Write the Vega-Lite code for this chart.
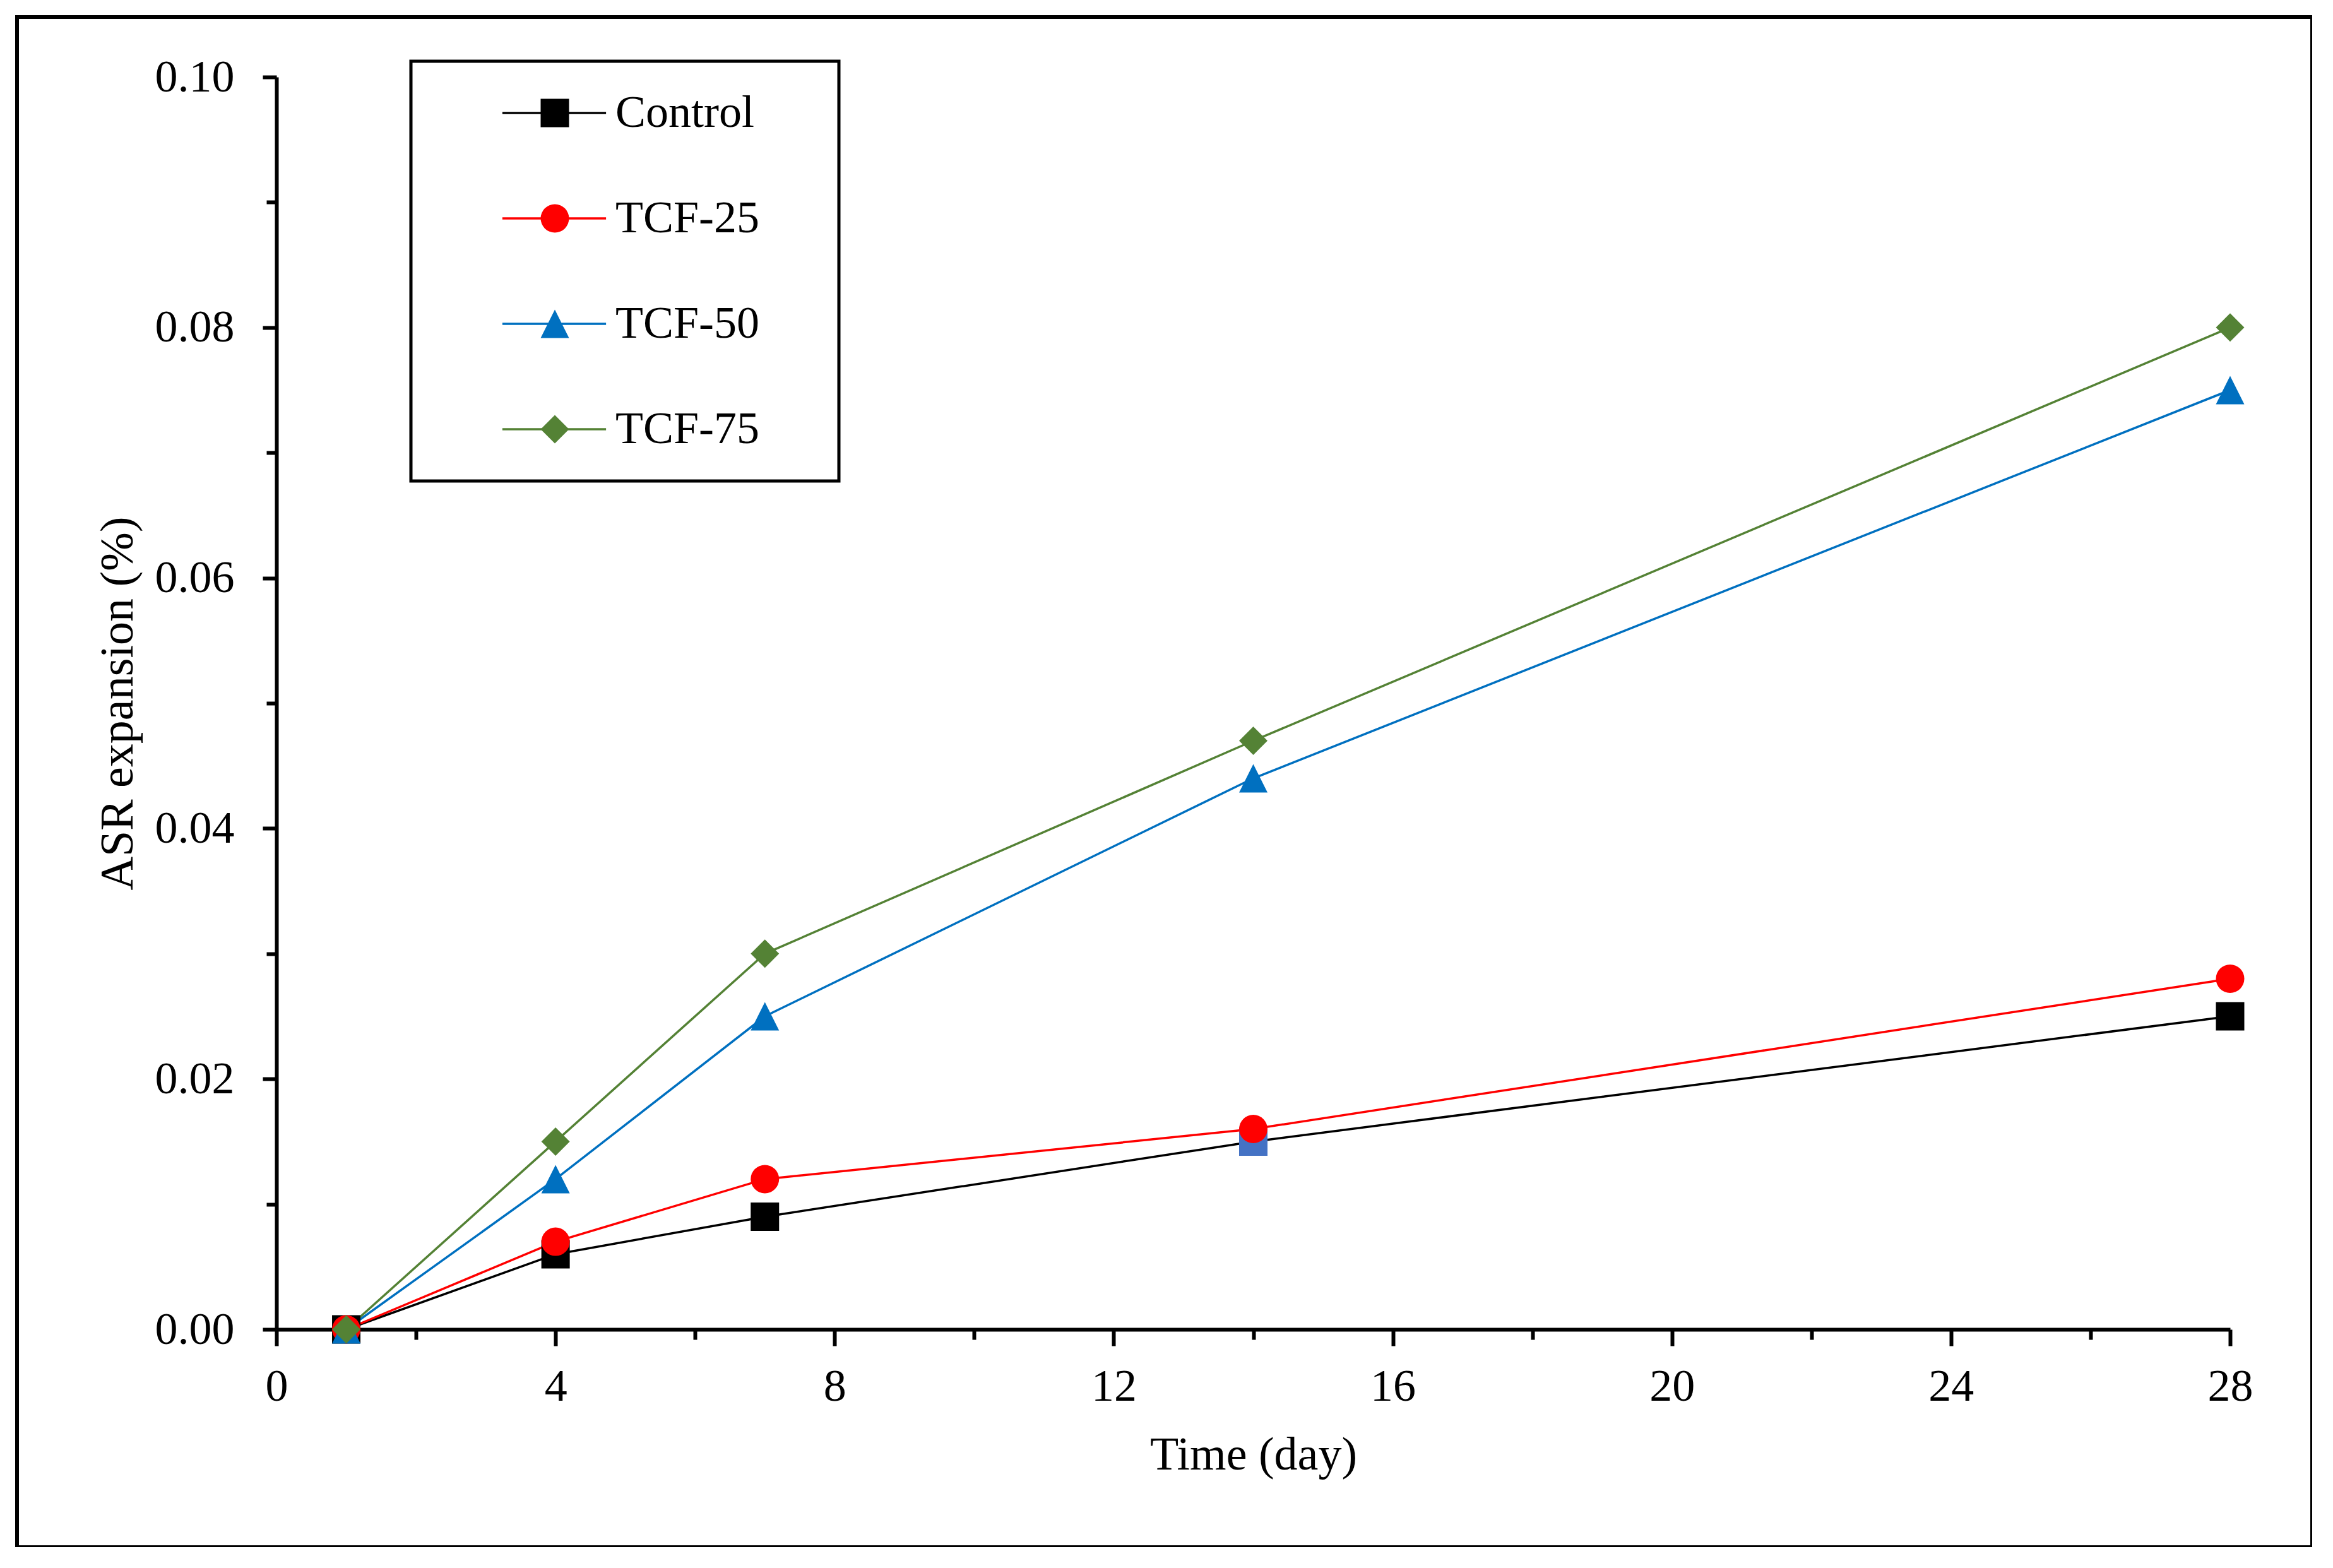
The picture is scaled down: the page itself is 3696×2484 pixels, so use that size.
{
  "$schema": "https://vega.github.io/schema/vega-lite/v6.json",
  "width": 3636,
  "height": 2424,
  "autosize": {"type": "none"},
  "padding": {"left": 27, "top": 27, "right": 0, "bottom": 0},
  "background": "white",
  "config": {
    "font": "Liberation Serif",
    "view": {"stroke": "black", "strokeWidth": 6},
    "legend": {"strokeWidth": 5},
    "axis": {"grid": false, "domainColor": "black", "tickColor": "black", "labelColor": "black", "titleColor": "black", "labelFont": "Liberation Serif", "titleFont": "Liberation Serif"}
  },
  "data": {
    "values": [
      {"series": "Control", "day": 1, "expansion": 0.0},
      {"series": "Control", "day": 4, "expansion": 0.006},
      {"series": "Control", "day": 7, "expansion": 0.009},
      {"series": "Control", "day": 14, "expansion": 0.015},
      {"series": "Control", "day": 28, "expansion": 0.025},
      {"series": "TCF-25", "day": 1, "expansion": 0.0},
      {"series": "TCF-25", "day": 4, "expansion": 0.007},
      {"series": "TCF-25", "day": 7, "expansion": 0.012},
      {"series": "TCF-25", "day": 14, "expansion": 0.016},
      {"series": "TCF-25", "day": 28, "expansion": 0.028},
      {"series": "TCF-50", "day": 1, "expansion": 0.0},
      {"series": "TCF-50", "day": 4, "expansion": 0.012},
      {"series": "TCF-50", "day": 7, "expansion": 0.025},
      {"series": "TCF-50", "day": 14, "expansion": 0.044},
      {"series": "TCF-50", "day": 28, "expansion": 0.075},
      {"series": "TCF-75", "day": 1, "expansion": 0.0},
      {"series": "TCF-75", "day": 4, "expansion": 0.015},
      {"series": "TCF-75", "day": 7, "expansion": 0.030},
      {"series": "TCF-75", "day": 14, "expansion": 0.047},
      {"series": "TCF-75", "day": 28, "expansion": 0.080}
    ]
  },
  "resolve": {
    "axis": {"x": "independent", "y": "independent"},
    "legend": {"color": "independent", "shape": "independent"}
  },
  "layer": [
    {
      "mark": {"type": "line", "strokeWidth": 3.5},
      "encoding": {
        "x": {
          "field": "day", "type": "quantitative",
          "scale": {"domain": [0, 28], "range": [411, 3506], "nice": false, "zero": false},
          "axis": {"orient": "bottom", "offset": -345, "values": [0, 4, 8, 12, 16, 20, 24, 28], "tickSize": 26, "tickWidth": 6, "domainWidth": 6, "labelFontSize": 72, "labelPadding": 29, "labelFlush": false, "labelOverlap": false, "title": "Time (day)", "titleFontSize": 74, "titleFontWeight": "normal", "titlePadding": 37}
        },
        "y": {
          "field": "expansion", "type": "quantitative",
          "scale": {"domain": [0, 0.1], "range": [2079, 95], "nice": false, "zero": false},
          "axis": {"orient": "left", "offset": -411, "values": [0, 0.02, 0.04, 0.06, 0.08, 0.1], "format": ".2f", "tickSize": 22, "tickWidth": 6, "domainWidth": 6, "labelFontSize": 72, "labelPadding": 45, "labelFlush": false, "labelOverlap": false, "title": "ASR expansion (%)", "titleFontSize": 74, "titleFontWeight": "normal", "titlePadding": 20}
        },
        "color": {
          "field": "series", "type": "nominal",
          "scale": {"domain": ["Control", "TCF-25", "TCF-50", "TCF-75"], "range": ["#000000", "#FF0000", "#0070C0", "#548235"]},
          "legend": {
            "orient": "none", "legendX": 624, "legendY": 70,
            "title": " ", "titleOrient": "right", "titleFontSize": 2, "titlePadding": 80,
            "strokeColor": "black", "padding": 46, "rowPadding": 95,
            "labelFont": "Liberation Serif", "labelFontSize": 72, "labelColor": "black", "labelLimit": 2000,
            "symbolType": "M-3.57,0H3.57", "symbolSize": 2116, "symbolOffset": 145, "labelOffset": 61, "symbolStrokeWidth": 3.5
          }
        }
      }
    },
    {
      "mark": {"type": "point", "filled": true, "opacity": 1, "size": 2025},
      "encoding": {
        "x": {
          "field": "day", "type": "quantitative",
          "axis": {"orient": "bottom", "offset": -345, "values": [2, 6, 10, 14, 18, 22, 26], "tickSize": 16, "tickWidth": 6, "domain": false, "labels": false, "title": null}
        },
        "y": {
          "field": "expansion", "type": "quantitative",
          "axis": {"orient": "left", "offset": -411, "values": [0.01, 0.03, 0.05, 0.07, 0.09], "tickSize": 16, "tickWidth": 6, "domain": false, "labels": false, "title": null}
        },
        "color": {
          "field": "series", "type": "nominal",
          "condition": {"test": "datum.series === 'Control' && datum.day === 14", "value": "#4472C4"},
          "legend": {
            "orient": "top-left", "offset": 116, "title": null, "padding": 0, "rowPadding": 95,
            "labelFontSize": 72, "labelExpr": "''", "symbolSize": 2025, "symbolOffset": 700, "symbolOpacity": 1
          }
        },
        "shape": {
          "field": "series", "type": "nominal",
          "scale": {"domain": ["Control", "TCF-25", "TCF-50", "TCF-75"], "range": ["square", "circle", "M0,-1L1,1L-1,1Z", "diamond"]},
          "legend": {
            "orient": "top-left", "offset": 116, "title": null, "padding": 0, "rowPadding": 95,
            "labelFontSize": 72, "labelExpr": "''", "symbolSize": 2025, "symbolOffset": 700, "symbolOpacity": 1
          }
        }
      }
    }
  ]
}
